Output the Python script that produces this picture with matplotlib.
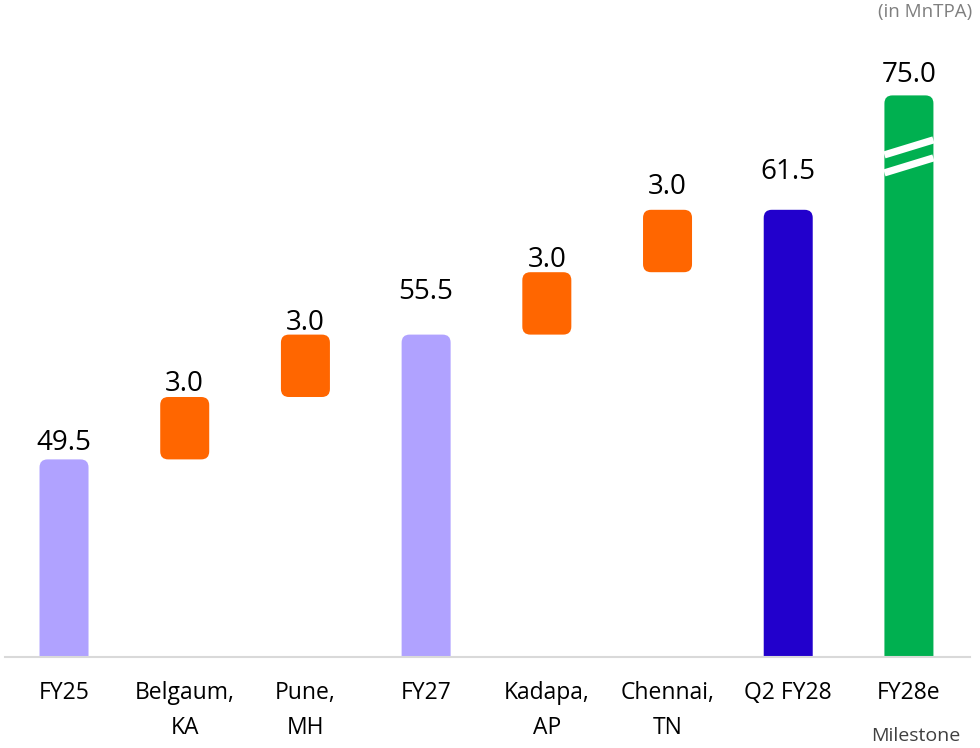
import matplotlib
matplotlib.use("Agg")
import matplotlib.pyplot as plt
from matplotlib.patches import FancyBboxPatch

# ---- data ----
categories = ["FY25", "Belgaum,\nKA", "Pune,\nMH", "FY27", "Kadapa,\nAP", "Chennai,\nTN", "Q2 FY28", "FY28e"]
kinds = ["total", "inc", "inc", "total", "inc", "inc", "total", "total"]
values = [49.5, 3.0, 3.0, 55.5, 3.0, 3.0, 61.5, 75.0]
labels = ["49.5", "3.0", "3.0", "55.5", "3.0", "3.0", "61.5", "75.0"]
colors = ["#B0A2FF", "#FF6600", "#FF6600", "#B0A2FF", "#FF6600", "#FF6600", "#2200CC", "#00B050"]
axis_min = 40.0
break_display_top = 67.0   # FY28e bar is drawn broken (axis break)

# style: gap (px) between bar top and its value label
label_gap_px = [9, 6, 5, 36, 5, 16, 31, 13]

plt.rcParams['font.family'] = ['Open Sans', 'DejaVu Sans']

fig = plt.figure(figsize=(9.8, 7.48), dpi=100)
ax = fig.add_axes([5/980, 91/748, 965/980, 657/748])
ax.set_xlim(-0.489, 7.506)
ax.set_ylim(axis_min, axis_min + 657/20.8)

w = 0.406
px_x = 1/120.7
px_y = 1/20.8
r = 8 * px_x
aspect = px_y / px_x

running = 0.0
for i, (k, v, c, lab, gap) in enumerate(zip(kinds, values, colors, labels, label_gap_px)):
    if k == "total":
        bottom = axis_min - 2
        top = v
        running = v
    else:
        bottom = running
        top = running + v
        running = top
    draw_top = min(top, break_display_top)
    patch = FancyBboxPatch((i - w/2, bottom), w, draw_top - bottom,
                           boxstyle=f"round,pad=0,rounding_size={r}",
                           mutation_aspect=aspect, facecolor=c, edgecolor='none')
    ax.add_patch(patch)
    ax.text(i, draw_top + gap*px_y, lab, ha='center', va='baseline', fontsize=20, color='#000000')
    if top > break_display_top:
        for off in (0.0, 18*px_y):
            y0 = break_display_top - 59.5*px_y - off
            ax.plot([i - w/2, i + w/2], [y0, y0 + 15*px_y], color='white', lw=5.2,
                    solid_capstyle='butt')

for s in ["top", "right", "left"]:
    ax.spines[s].set_visible(False)
ax.spines["bottom"].set_color("#D9D9D9")
ax.spines["bottom"].set_linewidth(1.5)
ax.set_yticks([])
ax.set_xticks(range(len(categories)))
ax.set_xticklabels(categories, fontsize=16.5, color='#000000', linespacing=1.62)
ax.tick_params(axis='x', length=0, pad=17)

fig.text(925/980, 1 - 12/748, "(in MnTPA)", ha='center', va='center', fontsize=13.5, color='#7F7F7F')
fig.text(916/980, 1 - 736/748, "Milestone", ha='center', va='center', fontsize=14, color='#404040')

fig.savefig("out.png", dpi=100)
